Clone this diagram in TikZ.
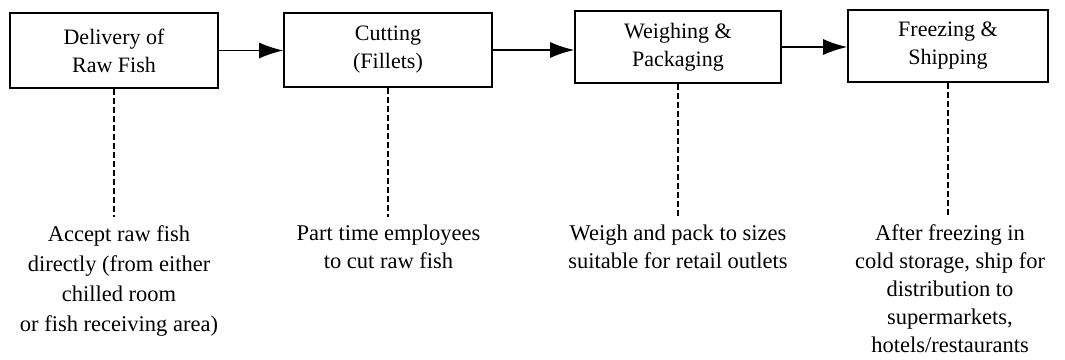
\documentclass[tikz,border=0pt]{standalone}
\usepackage{fontspec}
\setmainfont{Liberation Serif}
\usetikzlibrary{arrows.meta}
\begin{document}
\begin{tikzpicture}[x=1pt,y=-1pt,
  stagebox/.style={draw, line width=1.6pt, align=center, inner sep=0pt,
    font=\fontsize{22}{28}\selectfont},
  note/.style={align=center, inner sep=0pt, anchor=north,
    font=\fontsize{22.5}{28}\selectfont},
  flow/.style={line width=1.5pt, -{Latex[length=24pt,width=16pt]}},
  link/.style={line width=1.8pt, dash pattern=on 6pt off 3pt}]
\useasboundingbox (0,0) rectangle (1065,359);
\node[stagebox, minimum width=208pt, minimum height=75pt] (b1) at (114,50.5) {Delivery of\\Raw Fish};
\node[stagebox, minimum width=208pt, minimum height=74pt] (b2) at (388,50) {Cutting\\(Fillets)};
\node[stagebox, minimum width=206pt, minimum height=72pt] (b3) at (678,47) {Weighing \&\\Packaging};
\node[stagebox, minimum width=200pt, minimum height=72pt] (b4) at (948,46) {Freezing \&\\Shipping};
\draw[flow] (b1.east) -- (b1.east -| b2.west);
\draw[flow] (b2.east) -- (b2.east -| b3.west);
\draw[flow] (b3.east) -- (b3.east -| b4.west);
\coordinate (e1) at (114,217);
\coordinate (e2) at (388,217);
\coordinate (e3) at (678,217);
\coordinate (e4) at (948,217);
\draw[link] (b1.south) -- (e1);
\draw[link] (b2.south) -- (e2);
\draw[link] (b3.south) -- (e3);
\draw[link] (b4.south) -- (e4);
\node[note, font=\fontsize{22.5}{30}\selectfont] (t1) at (119,225) {Accept raw fish\\directly (from either\\chilled room\\or fish receiving area)};
\node[note] (t2) at (388.5,225) {Part time employees\\to cut raw fish};
\node[note] (t3) at (678,225) {Weigh and pack to sizes\\suitable for retail outlets};
\node[note] (t4) at (950,224) {After freezing in\\cold storage, ship for\\distribution to\\supermarkets,\\hotels/restaurants};
\end{tikzpicture}
\end{document}
